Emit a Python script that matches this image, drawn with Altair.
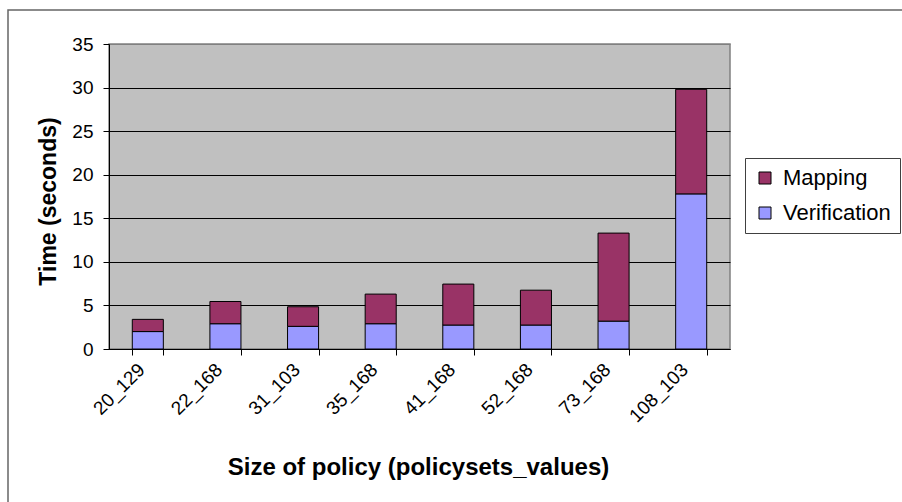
import altair as alt
import pandas as pd

categories = ["20_129", "22_168", "31_103", "35_168", "41_168", "52_168", "73_168", "108_103"]
verification = [2.0, 2.9, 2.6, 2.9, 2.75, 2.75, 3.2, 17.8]
mapping = [1.4, 2.55, 2.25, 3.4, 4.7, 4.0, 10.1, 12.0]
series = ["Mapping", "Verification"]
colors = ["#993366", "#9999FF"]
y_ticks = [0, 5, 10, 15, 20, 25, 30, 35]

rows = []
for c, v, m in zip(categories, verification, mapping):
    rows.append({"policy": c, "series": "Verification", "time": v, "ord": 0})
    rows.append({"policy": c, "series": "Mapping", "time": m, "ord": 1})
df = pd.DataFrame(rows)

FONT = "Liberation Sans"

bars = alt.Chart(df).mark_bar(stroke="black", strokeWidth=1).encode(
    x=alt.X(
        "policy:N",
        sort=categories,
        scale=alt.Scale(paddingInner=0.6, paddingOuter=0.3),
        axis=alt.Axis(
            title="Size of policy (policysets_values)",
            labelAngle=-45,
            tickBand="extent",
            labelFont=FONT,
            labelFontSize=19,
            labelColor="black",
            labelPadding=5,
            labelOffset=-13,
            tickSize=6,
            tickColor="black",
            domainColor="black",
            titleFont=FONT,
            titleFontSize=24,
            titleFontWeight="bold",
            titleColor="black",
            titleBaseline="alphabetic",
            titleX=309,
            titleY=125,
            grid=False,
        ),
    ),
    y=alt.Y(
        "time:Q",
        stack="zero",
        scale=alt.Scale(domain=[0, 35], nice=False),
        axis=alt.Axis(
            title="Time (seconds)",
            values=y_ticks,
            labelFont=FONT,
            labelFontSize=19,
            labelColor="black",
            labelPadding=10,
            tickSize=6,
            tickColor="black",
            domainColor="black",
            grid=True,
            gridColor=alt.condition("datum.value == 35", alt.value("#808080"), alt.value("black")),
            gridOpacity=1,
            titleFont=FONT,
            titleFontSize=23,
            titleFontWeight="bold",
            titleColor="black",
            titleBaseline="alphabetic",
            titleAngle=-90,
            titleAlign="center",
            titleX=-54,
            titleY=157,
        ),
    ),
    color=alt.Color(
        "series:N",
        scale=alt.Scale(domain=series, range=colors),
        legend=alt.Legend(
            title=None,
            orient="none",
            legendX=636,
            legendY=114,
            fillColor="white",
            strokeColor="#404040",
            padding=9,
            labelFont=FONT,
            labelFontSize=22,
            labelColor="black",
            labelOffset=7,
            symbolType="square",
            symbolSize=144,
            symbolStrokeColor="black",
            symbolStrokeWidth=1,
            symbolOpacity=1,
            rowPadding=13,
        ),
    ),
    order=alt.Order("ord:Q"),
)

border = alt.Chart(pd.DataFrame({"a": [0]})).mark_rect(
    fill="white", fillOpacity=0, stroke="#666666", strokeWidth=1.5
).encode(
    x=alt.value(-101), x2=alt.value(900), y=alt.value(-34), y2=alt.value(600)
)

chart = alt.layer(border, bars).properties(
    width=621,
    height=305,
    autosize=alt.AutoSizeParams(type="none"),
    padding={"left": 109, "top": 44, "right": 172, "bottom": 153},
    background="white",
).configure_view(
    fill="#C0C0C0", stroke="#808080", strokeWidth=1.5
)

chart.save("out.html", embed_options={"renderer": "svg", "actions": False})
